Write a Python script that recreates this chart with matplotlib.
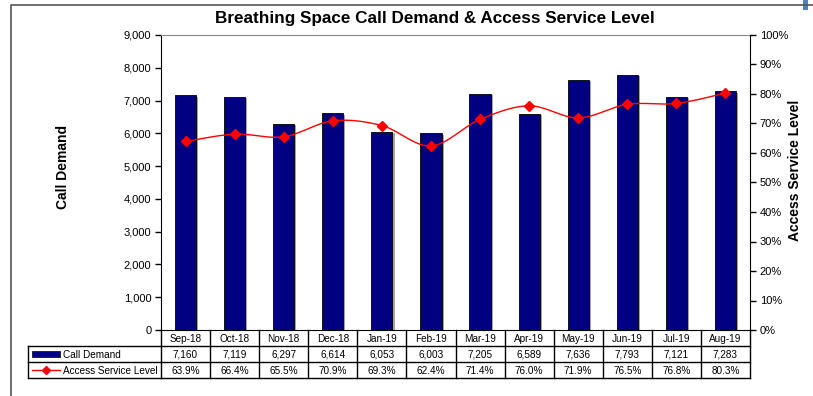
import numpy as np
import matplotlib
matplotlib.use("Agg")
import matplotlib.pyplot as plt
from matplotlib.transforms import blended_transform_factory
from matplotlib.patches import Rectangle
import matplotlib.patheffects as pe

plt.rcParams['font.family'] = ['Liberation Sans', 'DejaVu Sans']

months = ["Sep-18", "Oct-18", "Nov-18", "Dec-18", "Jan-19", "Feb-19",
          "Mar-19", "Apr-19", "May-19", "Jun-19", "Jul-19", "Aug-19"]
call_demand = [7160, 7119, 6297, 6614, 6053, 6003, 7205, 6589, 7636, 7793, 7121, 7283]
access_level = [63.9, 66.4, 65.5, 70.9, 69.3, 62.4, 71.4, 76.0, 71.9, 76.5, 76.8, 80.3]

title = "Breathing Space Call Demand & Access Service Level"
W, H = 813, 396
fig = plt.figure(figsize=(W / 100, H / 100), dpi=100)

# overlay in pixel coords
ov = fig.add_axes([0, 0, 1, 1], zorder=0)
ov.set_xlim(0, W)
ov.set_ylim(H, 0)
ov.axis('off')
ov.plot([11, 11, W], [H, 4.5, 4.5], color='#555555', lw=1.2)
ov.add_patch(Rectangle((803, 0), 5, 10, color='#4f81bd', lw=0))

L, R, T, B = 161, 750, 35, 330
ax = fig.add_axes([L / W, 1 - B / H, (R - L) / W, (B - T) / H], zorder=2)
ax.patch.set_alpha(0)
x = np.arange(len(months))
ax.bar(x, call_demand, width=0.43, color='#000080', edgecolor='black', lw=0.6,
       path_effects=[pe.SimplePatchShadow(offset=(1.5, -1.0), shadow_rgbFace='#999999', alpha=0.9), pe.Normal()])
ax.set_xlim(-0.5, len(months) - 0.5)
ax.set_ylim(0, 9000)
ax.set_yticks(np.arange(0, 9001, 1000))
ax.set_yticklabels([f"{v:,}" for v in range(0, 9001, 1000)], fontsize=8)
ax.set_xticks([])
ax.tick_params(axis='y', direction='out', length=4, width=1, pad=3)
ax.spines['left'].set_color('black')
ax.spines['top'].set_color('#888888')
ax.spines['right'].set_visible(False)
ax.spines['bottom'].set_color('black')
ax.spines['bottom'].set_linewidth(0.8)

ax2 = ax.twinx()
ax2.set_ylim(0, 100)
ax2.set_yticks(np.arange(0, 101, 10))
ax2.set_yticklabels([f"{v}%" for v in range(0, 101, 10)], fontsize=8)
ax2.tick_params(axis='y', direction='out', length=4, width=1, pad=3)
ax2.spines['right'].set_color('black')
ax2.spines['left'].set_visible(False)
ax2.spines['top'].set_visible(False)
ax2.spines['bottom'].set_visible(False)

ov.text(63, 167, "Call Demand", rotation=90, fontsize=10, fontweight='bold', ha='center', va='center')
ov.text(795, 170, "Access Service Level", rotation=90, fontsize=10, fontweight='bold', ha='center', va='center')


def catmull(xs, ys, n=20, tension=0.5):
    xs = np.asarray(xs, float); ys = np.asarray(ys, float)
    px = np.concatenate([[xs[0]], xs, [xs[-1]]])
    py = np.concatenate([[ys[0]], ys, [ys[-1]]])
    ox, oy = [], []
    for i in range(1, len(px) - 2):
        p0, p1, p2, p3 = [np.array([px[j], py[j]]) for j in (i - 1, i, i + 1, i + 2)]
        m1 = (p2 - p0) * tension
        m2 = (p3 - p1) * tension
        for t in np.linspace(0, 1, n, endpoint=False):
            h00 = 2 * t**3 - 3 * t**2 + 1
            h10 = t**3 - 2 * t**2 + t
            h01 = -2 * t**3 + 3 * t**2
            h11 = t**3 - t**2
            pt = h00 * p1 + h10 * m1 + h01 * p2 + h11 * m2
            ox.append(pt[0]); oy.append(pt[1])
    ox.append(xs[-1]); oy.append(ys[-1])
    return np.array(ox), np.array(oy)

sx, sy = catmull(x, access_level)
ax2.plot(sx, sy, color='red', lw=1.0, zorder=3)
ax2.plot(x, access_level, ls='none', marker='D', ms=5, color='red', zorder=4)

ov.text(434.5, 19, title, ha='center', va='center', fontsize=12.3, fontweight='bold')

# data table
tr = blended_transform_factory(ax.transData, ov.transData)
n = len(months)
edges = np.arange(n + 1) - 0.5
y0, y1, y2, y3 = 330, 346, 362, 378
lk = dict(color='black', lw=1.0, transform=tr, clip_on=False, zorder=5)
for yy in (y1, y2, y3):
    ax.plot([edges[0], edges[-1]], [yy, yy], **lk)
for e in edges:
    ax.plot([e, e], [y0, y3], **lk)
ov.plot([28, L], [y1, y1], color='black', lw=1.0)
ov.plot([28, L], [y2, y2], color='black', lw=1.0)
ov.plot([28, L], [y3, y3], color='black', lw=1.0)
ov.plot([28, 28], [y1, y3], color='black', lw=1.0)
ov.add_patch(Rectangle((32, 350.5), 28, 6.5, facecolor='#000080', edgecolor='black', lw=0.5))
ov.plot([32, 60], [369.5, 369.5], color='red', lw=1.0)
ov.plot([46], [369.5], marker='D', ms=4, color='red')
ov.text(63, (y1 + y2) / 2 + 0.5, "Call Demand", fontsize=7.2, va='center', ha='left')
ov.text(63, (y2 + y3) / 2 + 0.5, "Access Service Level", fontsize=7.2, va='center', ha='left')

for i in range(n):
    ax.text(i, (y0 + y1) / 2 + 0.5, months[i], fontsize=7.2, ha='center', va='center', transform=tr, clip_on=False)
    ax.text(i, (y1 + y2) / 2 + 0.5, f"{call_demand[i]:,}", fontsize=7.2, ha='center', va='center', transform=tr, clip_on=False)
    ax.text(i, (y2 + y3) / 2 + 0.5, f"{access_level[i]:.1f}%", fontsize=7.2, ha='center', va='center', transform=tr, clip_on=False)

fig.savefig("out.png", dpi=100)
